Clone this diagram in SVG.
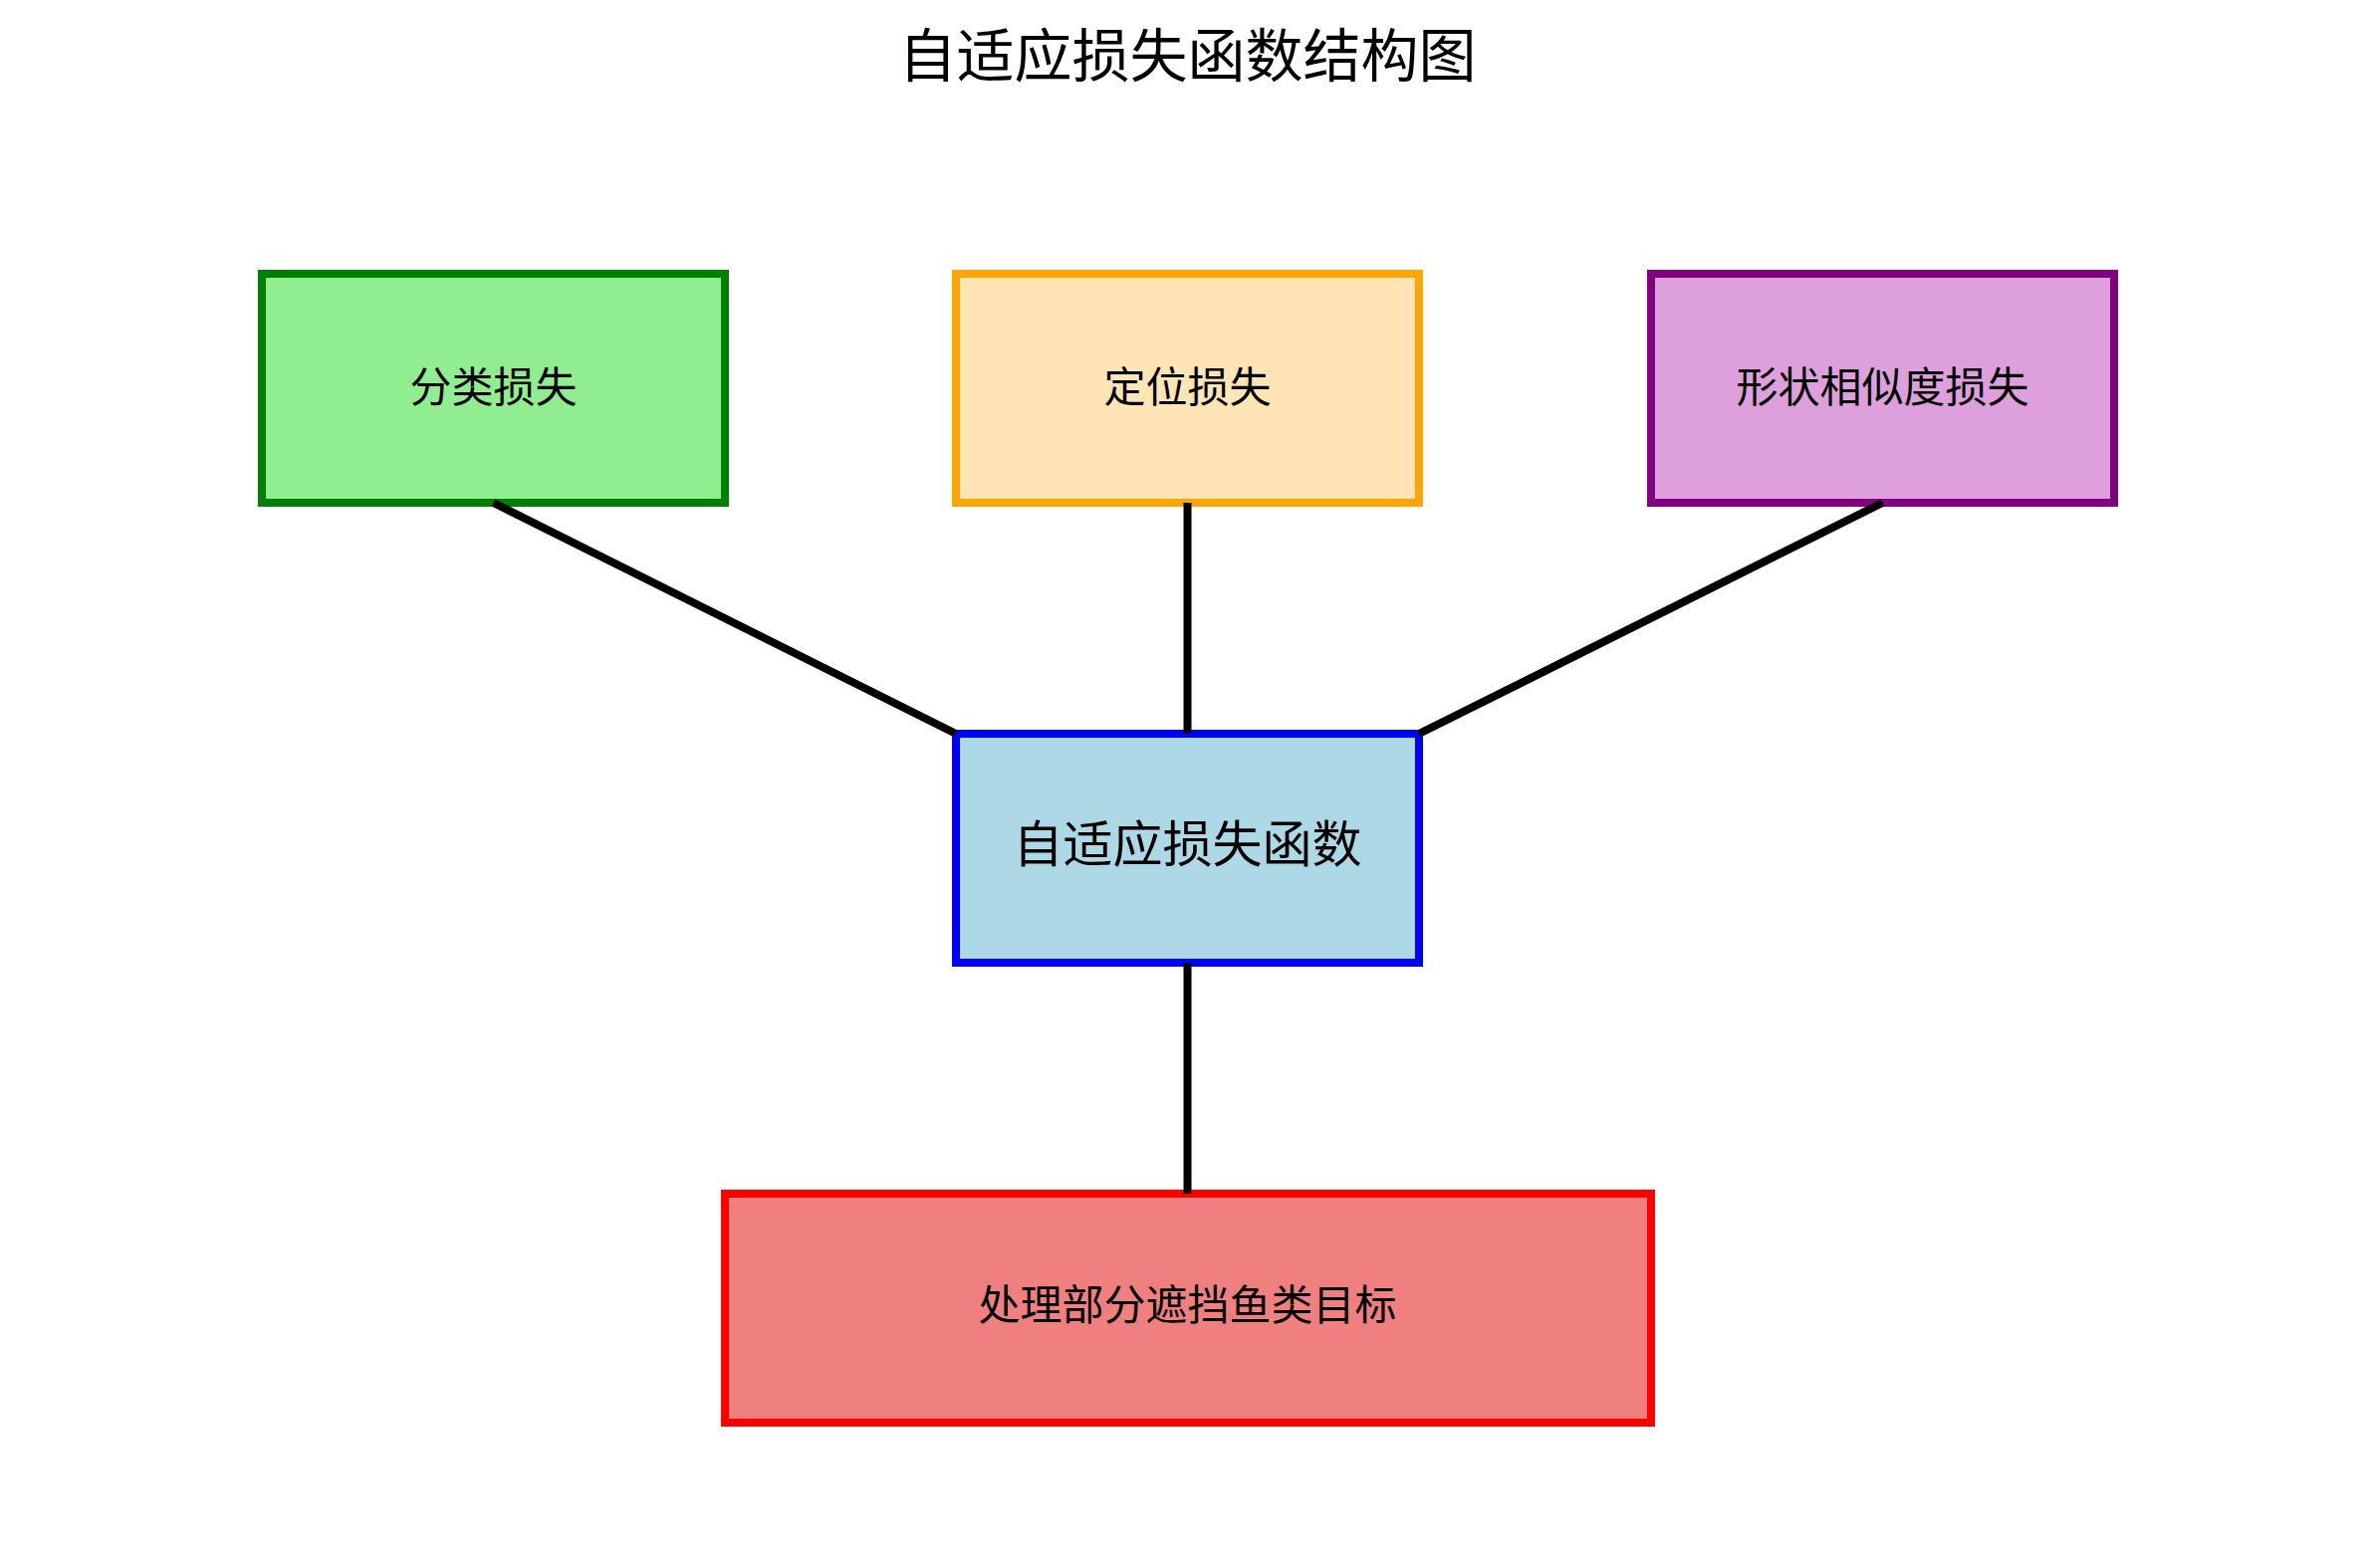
<svg xmlns="http://www.w3.org/2000/svg" width="2385" height="1575" viewBox="0 0 2385 1575">
<style>
text{font-family:"Noto Sans CJK SC","Noto Sans",sans-serif;fill:#000;text-anchor:middle;dominant-baseline:central}
.box{stroke-width:8}
.lbl{font-size:42px}
.conn{stroke:#000;stroke-width:8;fill:none}
</style>
<rect width="2385" height="1575" fill="#fff"/>
<text x="1192.5" y="52" style="font-size:58px">自适应损失函数结构图</text>
<g id="cls"><rect class="box" x="263" y="275" width="465" height="230" fill="#90EE90" stroke="#008000"/><text class="lbl" x="495.5" y="385">分类损失</text></g>
<g id="loc"><rect class="box" x="960" y="275" width="465" height="230" fill="#FFE4B5" stroke="#FFA500"/><text class="lbl" x="1192.5" y="385">定位损失</text></g>
<g id="shape"><rect class="box" x="1658" y="275" width="465" height="230" fill="#DDA0DD" stroke="#800080"/><text class="lbl" x="1890.5" y="385">形状相似度损失</text></g>
<g id="center"><rect class="box" x="960" y="737" width="465" height="230" fill="#ADD8E6" stroke="#0000FF"/><text x="1192.5" y="844" style="font-size:50px">自适应损失函数</text></g>
<g id="target"><rect class="box" x="728" y="1199" width="930" height="230" fill="#F08080" stroke="#FF0000"/><text class="lbl" x="1192.5" y="1307">处理部分遮挡鱼类目标</text></g>
<g id="connectors">
<line class="conn" x1="495.5" y1="505" x2="960" y2="737"/>
<line class="conn" x1="1192.5" y1="505" x2="1192.5" y2="737"/>
<line class="conn" x1="1890.5" y1="505" x2="1425" y2="737"/>
<line class="conn" x1="1192.5" y1="967" x2="1192.5" y2="1199"/>
</g>
</svg>
